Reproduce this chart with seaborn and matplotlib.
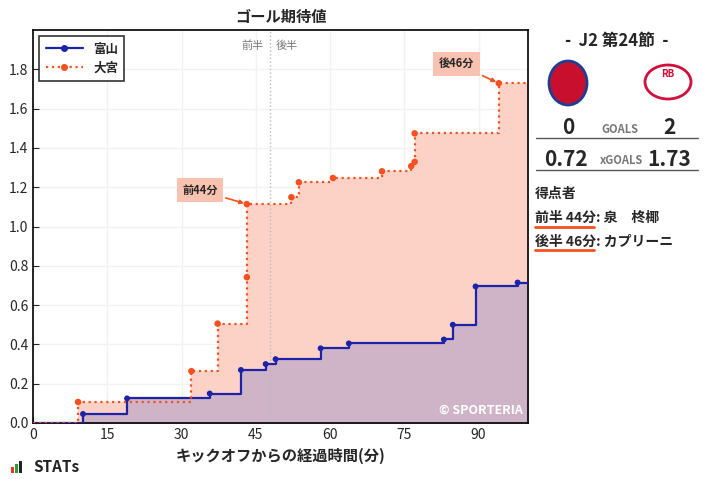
import matplotlib
matplotlib.use("Agg")
import matplotlib.pyplot as plt
import seaborn as sns
import pandas as pd
from matplotlib.patches import Rectangle, Ellipse

sns.set_style("white")
plt.rcParams["font.family"] = ["Noto Sans CJK JP"]
plt.rcParams["font.sans-serif"] = ["Noto Sans CJK JP", "DejaVu Sans"]

toyama_t = [0, 10.1, 19.0, 35.7, 42.0, 47.0, 49.0, 58.1, 63.8, 83.0, 84.8, 89.4, 97.9, 100]
toyama_v = [0, 0.046, 0.125, 0.15, 0.27, 0.30, 0.325, 0.38, 0.405, 0.425, 0.50, 0.695, 0.715, 0.72]
omiya_t = [0, 9.1, 32.0, 37.3, 43.2, 43.2, 52.2, 53.7, 60.6, 70.5, 76.4, 77.1, 77.1, 94.1, 100]
omiya_v = [0, 0.107, 0.264, 0.506, 0.742, 1.114, 1.149, 1.225, 1.247, 1.281, 1.307, 1.329, 1.474, 1.729, 1.73]
goal_labels = ["前44分", "後46分"]
goal_idx = [5, 13]

blue = "#1c23a8"
red = "#f5501e"

fig = plt.figure(figsize=(7.07, 4.79), dpi=100)
ax = fig.add_axes([33/707, 1-423/479, 495/707, 393/479])

ax.fill_between(omiya_t, omiya_v, step="post", color="#fcd2c6", zorder=1)
ax.fill_between(toyama_t, toyama_v, step="post", color="#cfb3c7", zorder=2)
ax.step(toyama_t, toyama_v, where="post", color=blue, lw=1.6, zorder=4)
ax.step(omiya_t, omiya_v, where="post", color=red, lw=1.6, ls=":", zorder=4)
sns.scatterplot(x=toyama_t[1:-1], y=toyama_v[1:-1], color=blue, s=18, edgecolor="none", ax=ax, zorder=5)
sns.scatterplot(x=omiya_t[1:-1], y=omiya_v[1:-1], color=red, s=22, edgecolor="none", ax=ax, zorder=5)
ax.plot([], [], color=blue, lw=1.6, marker="o", ms=4, label="富山")
ax.plot([], [], color=red, lw=1.6, ls=":", marker="o", ms=4, label="大宮")

ax.set_xlim(0, 100)
ax.set_ylim(0, 2.0)
ax.set_xticks([0, 15, 30, 45, 60, 75, 90])
ax.set_yticks([0, 0.2, 0.4, 0.6, 0.8, 1.0, 1.2, 1.4, 1.6, 1.8])
ax.set_yticklabels([f"{v:.1f}" for v in ax.get_yticks()])
ax.tick_params(direction="in", labelsize=10, length=4, bottom=True, left=True)
ax.grid(True, color="#f2f2f2", lw=1)
for s in ax.spines.values():
    s.set_color("black"); s.set_linewidth(1.2)
ax.axvline(47.8, color="#bbbbbb", ls=":", lw=1)
ax.text(46.5, 1.92, "前半", ha="right", va="center", fontsize=8, color="#777777")
ax.text(49.0, 1.92, "後半", ha="left", va="center", fontsize=8, color="#777777")
ax.set_title("ゴール期待値", fontsize=11, fontweight="bold", pad=6)
ax.set_xlabel("キックオフからの経過時間(分)", fontsize=11, fontweight="bold")
ax.set_ylabel("")
ax.text(99, 0.03, "© SPORTERIA", ha="right", va="bottom", color="white", fontsize=9, fontweight="bold")

offsets = [(-9.5, 0.03), (-8.5, 0.06)]
for lab, i, (dx, dy) in zip(goal_labels, goal_idx, offsets):
    x, y = omiya_t[i], omiya_v[i]
    ax.annotate(lab, xy=(x, y), xytext=(x + dx, y + dy + 0.04), fontsize=8, fontweight="bold",
                ha="center", va="center",
                bbox=dict(boxstyle="square,pad=0.5", fc="#f9c2b0", ec="none"),
                arrowprops=dict(arrowstyle="-|>", color=red, lw=1.2, mutation_scale=6), zorder=6)

leg = ax.legend(loc="upper left", fontsize=9, frameon=True, fancybox=False, edgecolor="black",
                borderpad=0.5, handlelength=3, prop={"weight": "bold", "size": 9})
leg.get_frame().set_linewidth(1.2)

def fx(px): return px/707
def fy(py): return 1-py/479
fig.text(fx(617), fy(41), "-  J2 第24節  -", ha="center", va="center", fontsize=12, fontweight="bold")
fig.patches.append(Ellipse((fx(568), fy(83)), 38/707, 44/479, transform=fig.transFigure, fc="#c8102e", ec="#1c3f94", lw=2))
fig.patches.append(Ellipse((fx(668), fy(82)), 46/707, 34/479, transform=fig.transFigure, fc="white", ec="#d0103a", lw=2))
fig.text(fx(668), fy(74), "RB", ha="center", va="center", fontsize=7, color="#d0103a", fontweight="bold")
fig.text(fx(568), fy(127), "0", ha="center", va="center", fontsize=15, fontweight="bold")
fig.text(fx(620), fy(129), "GOALS", ha="center", va="center", fontsize=8, color="#777777", fontweight="bold")
fig.text(fx(669), fy(127), "2", ha="center", va="center", fontsize=15, fontweight="bold")
fig.lines.append(plt.Line2D([fx(536), fx(698)], [fy(138), fy(138)], transform=fig.transFigure, color="#555555", lw=1))
fig.text(fx(566), fy(159), "0.72", ha="center", va="center", fontsize=15, fontweight="bold")
fig.text(fx(621), fy(161), "xGOALS", ha="center", va="center", fontsize=8, color="#777777", fontweight="bold")
fig.text(fx(669), fy(159), "1.73", ha="center", va="center", fontsize=15, fontweight="bold")
fig.lines.append(plt.Line2D([fx(536), fx(698)], [fy(170), fy(170)], transform=fig.transFigure, color="#555555", lw=1))
fig.text(fx(535), fy(194), "得点者", ha="left", va="center", fontsize=10, fontweight="bold")
fig.text(fx(535), fy(218), "前半 44分: 泉　柊椰", ha="left", va="center", fontsize=10, fontweight="bold")
fig.lines.append(plt.Line2D([fx(535), fx(594)], [fy(227), fy(227)], transform=fig.transFigure, color=red, lw=2))
fig.text(fx(535), fy(242), "後半 46分: カプリーニ", ha="left", va="center", fontsize=10, fontweight="bold")
fig.lines.append(plt.Line2D([fx(535), fx(594)], [fy(250), fy(250)], transform=fig.transFigure, color=red, lw=2))

for i, (h, c) in enumerate([(6, "#e83828"), (9, "#2a9d3a"), (12, "#222222")]):
    fig.patches.append(Rectangle((fx(11 + i*4), fy(473)), 3/707, h/479, transform=fig.transFigure, fc=c, ec="none"))
fig.text(fx(33), fy(467), "STATs", ha="left", va="center", fontsize=11, fontweight="bold", color="#222222")

fig.savefig("out.png", dpi=100)
